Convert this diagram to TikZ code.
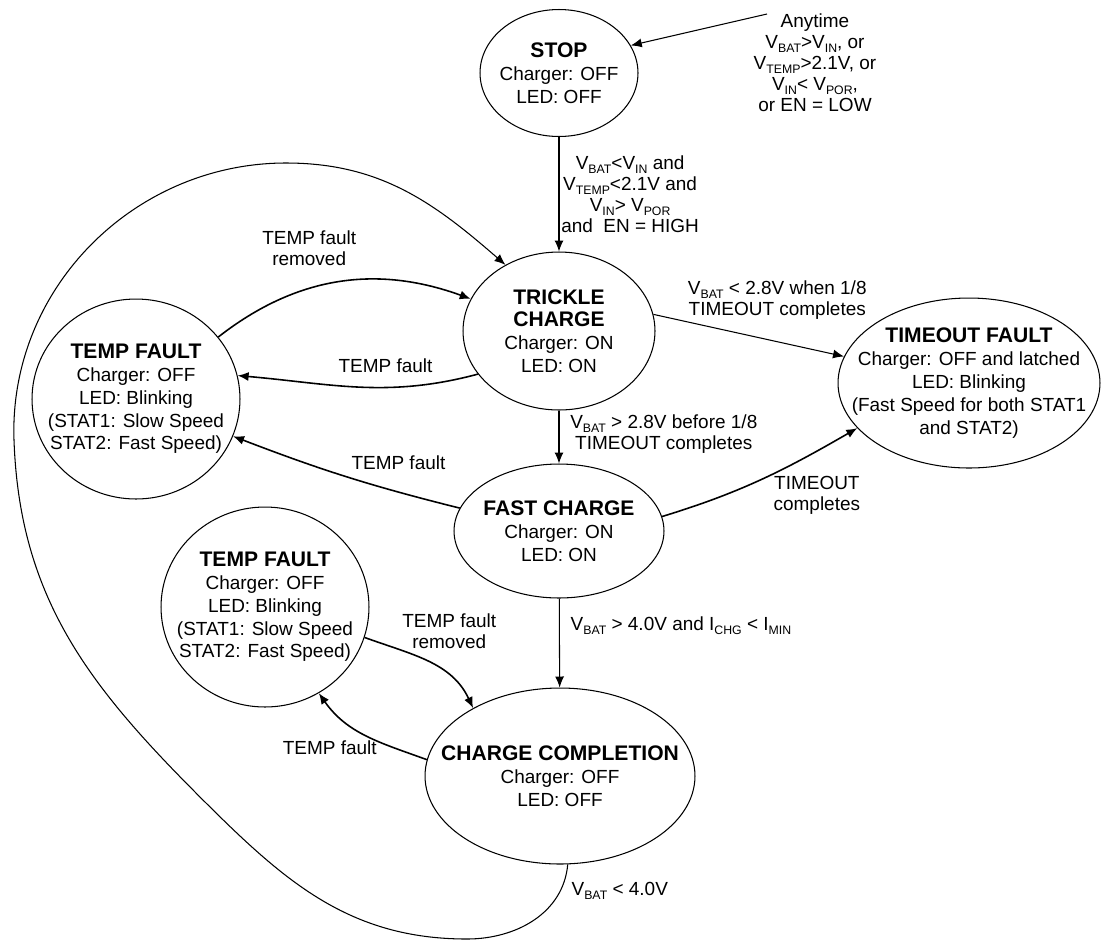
\documentclass[tikz,border=0pt]{standalone}
\usepackage{fontspec}
\setmainfont{Liberation Sans}
\usetikzlibrary{shapes.geometric,arrows.meta}

\newcommand{\sbs}[1]{\raisebox{-0.4ex}{\fontsize{7}{8}\selectfont #1}}
\newcommand{\ttl}[1]{{\fontsize{12}{13}\selectfont\bfseries #1}}

\begin{document}
\begin{tikzpicture}[x=0.02cm,y=0.02cm]
    \tikzset{stateNode/.style = {shape=ellipse,draw,line width=0.6pt,inner sep=-0.6cm,align=center,font=\fontsize{10.8}{13}\selectfont}}
    \tikzset{condLabel/.style = {align=center,inner sep=1pt,font=\fontsize{10.8}{12}\selectfont}}
    \tikzset{trans/.style = {-{Latex[length=2.2mm,width=1.8mm]},line width=0.6pt}}
    \tikzset{transBold/.style = {trans,line width=0.9pt}}

    \useasboundingbox (0,0) rectangle (1102,-941);

    \node[stateNode,minimum width=3.16cm,minimum height=2.54cm] (stop) at (559,-73) {\ttl{STOP}\\Charger: OFF\\LED: OFF};
    \node[stateNode,minimum width=3.84cm,minimum height=3.16cm] (trickle) at (559,-331) {\ttl{TRICKLE}\\\ttl{CHARGE}\\Charger: ON\\LED: ON};
    \node[stateNode,minimum width=4.2cm,minimum height=2.68cm] (fast) at (559,-531) {\ttl{FAST CHARGE}\\Charger: ON\\LED: ON};
    \node[stateNode,minimum width=5.4cm,minimum height=3.52cm] (done) at (560,-776) {\ttl{CHARGE COMPLETION}\\Charger: OFF\\LED: OFF};
    \node[stateNode,minimum width=4.16cm,minimum height=4cm] (tf1) at (136,-399) {\ttl{TEMP FAULT}\\Charger: OFF\\LED: Blinking\\(STAT1: Slow Speed\\STAT2: Fast Speed)};
    \node[stateNode,minimum width=4.16cm,minimum height=4cm] (tf2) at (265,-607) {\ttl{TEMP FAULT}\\Charger: OFF\\LED: Blinking\\(STAT1: Slow Speed\\STAT2: Fast Speed)};
    \node[stateNode,minimum width=5.24cm,minimum height=3.4cm] (timeout) at (969,-383) {\ttl{TIMEOUT FAULT}\\Charger: OFF and latched\\LED: Blinking\\(Fast Speed for both STAT1\\and STAT2)};

    \node[condLabel] (anytime) at (815,-63) {Anytime\\V\sbs{BAT}>V\sbs{IN}, or\\V\sbs{TEMP}>2.1V, or\\V\sbs{IN}< V\sbs{POR},\\or EN = LOW};
    \coordinate (src) at (767,-14);

    % straight transitions
    \draw[trans] (src) -- (stop.21);
    \draw[trans] (stop) -- node[condLabel,right,pos=0.5] {V\sbs{BAT}<V\sbs{IN} and\\V\sbs{TEMP}<2.1V and\\V\sbs{IN}> V\sbs{POR}\\and\ \ EN = HIGH} (trickle);
    \draw[trans] (trickle) -- node[condLabel,right=0.18cm,pos=0.45] {V\sbs{BAT} > 2.8V before 1/8\\TIMEOUT completes} (fast);
    \draw[trans] (fast) -- node[condLabel,right=0.18cm,pos=0.31] {V\sbs{BAT} > 4.0V and I\sbs{CHG} < I\sbs{MIN}} (done);
    \draw[trans] (trickle.10) -- node[condLabel,above=0.4cm,pos=0.65] {V\sbs{BAT} < 2.8V when 1/8\\TIMEOUT completes} (timeout.168);
    \draw[transBold] (fast.8) to[out=17,in=-150] node[condLabel,below=0.45cm,pos=0.8] {TIMEOUT\\completes} (timeout.202);

    % temperature faults
    \draw[transBold] (tf1.37) to[out=38,in=160] node[condLabel,above=0.4cm,pos=0.38] {TEMP fault\\removed} (trickle.160);
    \draw[transBold] (trickle.208) to[out=195,in=-5] node[condLabel,above=0.25cm,pos=0.38] {TEMP fault} (tf1.13);
    \draw[transBold] (fast.167) to[out=166,in=-21] node[condLabel,above=0.4cm,pos=0.25] {TEMP fault} (tf1.-21);
    \draw[transBold] (tf2.-17) to[out=-20,in=115] node[condLabel,above=0.5cm,pos=0.7] {TEMP fault\\removed} (done.142);
    \draw[transBold] (done.173) to[out=160,in=-55] node[condLabel,left=0.3cm,pos=0.25] {TEMP fault} (tf2.-58);

    % back to trickle charge
    \draw[trans] (done.-85) to[out=-95,in=0] node[condLabel,right=0.18cm,pos=0.2] {V\sbs{BAT} < 4.0V} (467,-939)
        to[out=180,in=-45] (200,-797)
        to[out=135,in=-88] (14,-440)
        to[out=92,in=180] (286,-163)
        to[out=0,in=139] (trickle.129);
\end{tikzpicture}
\end{document}
